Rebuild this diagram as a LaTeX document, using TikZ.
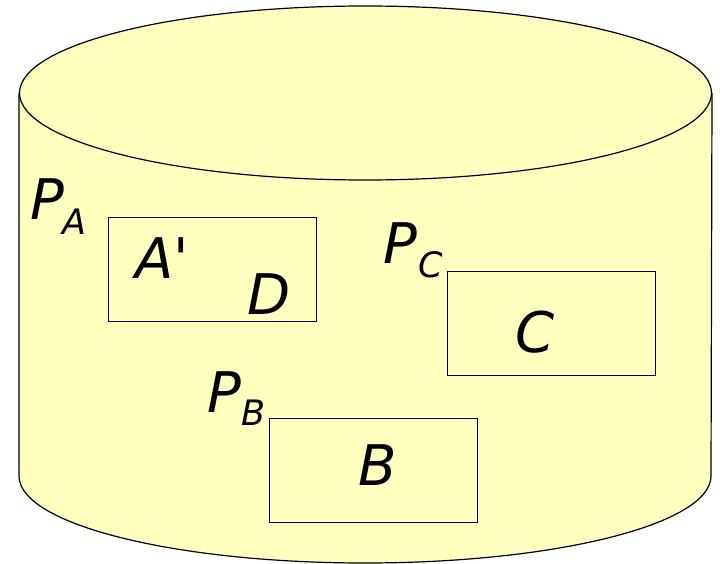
\documentclass[tikz,border=0pt]{standalone}
\usepackage{fontspec}
\newfontfamily\lblfont{DejaVu Sans}
\definecolor{cylfill}{RGB}{255,255,192}
\begin{document}
\begin{tikzpicture}[x=1pt,y=-1pt,
  lbl/.style={font=\lblfont\itshape\fontsize{56}{56}\selectfont, inner sep=0pt, anchor=base west},
  sub/.style={font=\lblfont\itshape\fontsize{35}{35}\selectfont, inner sep=0pt, anchor=base west},
  region/.style={draw=black, line width=0.9pt, minimum width=208pt, minimum height=104pt, inner sep=0pt}]
\useasboundingbox (0,0) rectangle (720,564);
% cylinder body
\fill[cylfill] (19,93) -- (19,476) arc[start angle=180,end angle=0,x radius=346,y radius=87]
  -- (712,93) arc[start angle=0,end angle=-180,x radius=346,y radius=87] -- cycle;
\draw[line width=1.2pt] (19,93) -- (19,476) arc[start angle=180,end angle=0,x radius=346,y radius=87] -- (712,93);
\draw[line width=1.2pt] (365.5,93) ellipse[x radius=346,y radius=87];
% regions
\node[region] (ra) at (212,269.5) {};
\node[region] (rc) at (551,323) {};
\node[region] (rb) at (373.5,470) {};
% labels
\node[lbl] (pa) at (30,220) {P};
\node[sub] (pas) at (62,235) {A};
\node[lbl] (pc) at (383,263) {P};
\node[sub] (pcs) at (418,277) {C};
\node[lbl] (pb) at (207,412) {P};
\node[sub] (pbs) at (241,425) {B};
\node[lbl] (ta) at (135,278) {A'};
\node[lbl] (td) at (247,314) {D};
\node[lbl] (tc) at (515,352) {C};
\node[lbl] (tb) at (358,485) {B};
\end{tikzpicture}
\end{document}
